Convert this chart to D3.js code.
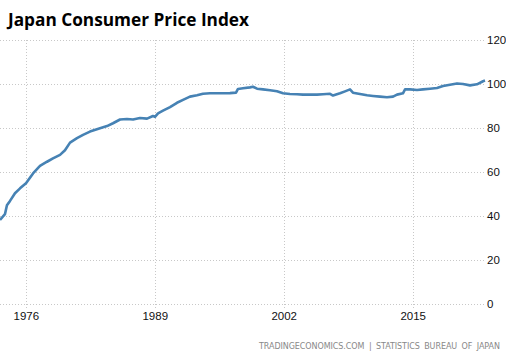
<!DOCTYPE html>
<html><head><meta charset="utf-8">
<script src="https://cdnjs.cloudflare.com/ajax/libs/d3/7.8.5/d3.min.js"></script>
<style>
html,body{margin:0;padding:0;background:#fff;}
svg{display:block;}
</style></head>
<body><svg id="chart" width="506" height="359"></svg>
<script>
const title = "Japan Consumer Price Index";
const source = "TRADINGECONOMICS.COM  |  STATISTICS BUREAU OF JAPAN";
const years = [1973.35,1973.85,1974.05,1974.36,1974.86,1975.37,1975.97,1976.68,1977.38,1978.09,1978.69,1979.4,1979.9,1980.41,1981.11,1981.72,1982.42,1983.43,1984.14,1984.74,1985.45,1986.15,1986.76,1987.46,1988.17,1988.77,1988.97,1989.28,1989.78,1990.49,1991.19,1991.8,1992.5,1993.21,1993.81,1994.52,1995.22,1995.83,1996.53,1997.14,1997.34,1997.85,1998.55,1998.85,1999.26,1999.86,2000.57,2001.27,2001.88,2002.58,2003.29,2003.89,2004.6,2005.3,2005.91,2006.62,2006.92,2007.62,2008.13,2008.63,2008.93,2009.64,2010.35,2010.95,2011.66,2012.36,2012.97,2013.37,2013.97,2014.18,2014.68,2015.39,2015.99,2016.7,2017.4,2018.01,2018.71,2019.42,2020.02,2020.73,2021.43,2022.04,2022.24];
const cpi = [38.3,41,45,47,50.5,52.7,55,59.5,62.9,64.8,66.3,67.9,70,73.5,75.5,77,78.5,80,81,82.3,84,84.2,84,84.7,84.4,85.6,85.2,86.8,88,89.6,91.6,92.9,94.4,95,95.7,95.9,95.9,95.9,96,96.2,97.9,98.2,98.6,98.9,98,97.7,97.3,96.8,95.9,95.6,95.5,95.3,95.3,95.3,95.5,95.7,94.9,95.9,96.8,97.7,96.2,95.6,95,94.7,94.4,94.1,94.4,95.3,95.9,97.7,97.7,97.4,97.7,98,98.3,99.2,99.8,100.4,100.1,99.5,100,101.4,101.7];
const xTicks = [1976,1989,2002,2015];
const yTicks = [0,20,40,60,80,100,120];

const svg = d3.select("#chart");
const x = d3.scaleLinear().domain([1973.35, 2022.24]).range([0, 485]);
const y = d3.scaleLinear().domain([0, 120]).range([304.3, 40.3]);

svg.append("text").attr("x", 8).attr("y", 26)
  .attr("font-family", "'Open Sans', sans-serif").attr("font-weight", 700)
  .attr("font-size", 18).attr("fill", "#000")
  .attr("textLength", 241).attr("lengthAdjust", "spacingAndGlyphs")
  .text(title);

// horizontal grid
const gy = svg.append("g");
gy.selectAll("line").data(yTicks).enter().append("line")
  .attr("x1", 0).attr("x2", 485)
  .attr("y1", d => Math.round(y(d)) + 0.5).attr("y2", d => Math.round(y(d)) + 0.5)
  .attr("stroke", "#c8c8c8").attr("stroke-dasharray", "1,2");
// vertical grid
const gx = svg.append("g");
gx.selectAll("line").data(xTicks).enter().append("line")
  .attr("x1", d => Math.round(x(d)) + 0.5).attr("x2", d => Math.round(x(d)) + 0.5)
  .attr("y1", 40).attr("y2", 308)
  .attr("stroke", "#c8c8c8").attr("stroke-dasharray", "1,2");

// right axis labels
svg.append("g").selectAll("text").data(yTicks).enter().append("text")
  .attr("x", 487).attr("y", d => y(d)).attr("dy", "0.35em")
  .attr("font-family", "'Liberation Sans', Arial, sans-serif").attr("font-size", 11.5)
  .attr("fill", "#111").text(d => d);

// bottom labels
svg.append("g").selectAll("text").data(xTicks).enter().append("text")
  .attr("x", d => x(d)).attr("y", 316).attr("dy", "0.35em").attr("text-anchor", "middle")
  .attr("font-family", "'Liberation Sans', Arial, sans-serif").attr("font-size", 11.5)
  .attr("fill", "#111").text(d => d);

// line
const line = d3.line().x((d, i) => x(years[i])).y(d => y(d));
svg.append("path").datum(cpi).attr("d", line)
  .attr("fill", "none").attr("stroke", "#4682b4").attr("stroke-width", 2.6)
  .attr("stroke-linejoin", "round");

// source
svg.append("text").attr("x", 500).attr("y", 349).attr("text-anchor", "end")
  .attr("font-family", "'DejaVu Sans', sans-serif").attr("font-size", 8)
  .attr("fill", "#888").attr("word-spacing", 2).attr("textLength", 241).attr("lengthAdjust", "spacing")
  .text(source);
</script></body></html>
